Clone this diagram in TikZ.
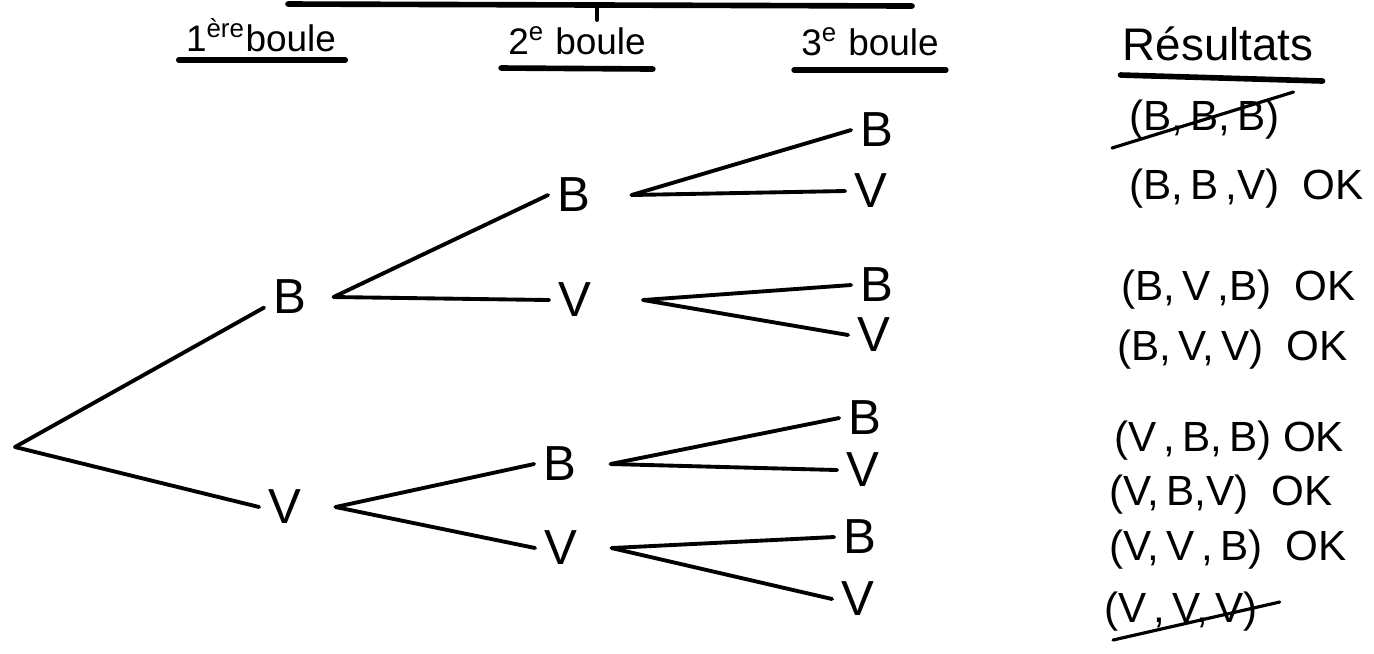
\documentclass[tikz,border=0pt]{standalone}
\usepackage{fontspec}
\setmainfont{Liberation Sans}
\begin{document}
\begin{tikzpicture}[x=0.01cm,y=-0.01cm,
  lbl/.style={inner sep=2.5pt,font=\fontsize{14}{16}\selectfont},
  head/.style={inner sep=1pt,font=\fontsize{10.5}{12}\selectfont},
  res/.style={inner sep=1pt,anchor=west,font=\fontsize{12}{14}\selectfont},
  edge/.style={line width=1.1pt,line cap=round},
  uline/.style={line width=1.6pt,line cap=round},
  strike/.style={line width=0.9pt,line cap=round}]
\useasboundingbox (0,0) rectangle (1374,653);
% cut title underline
\coordinate (t1) at (288,4);
\coordinate (t2) at (912,6);
\coordinate (t3) at (597,5);
\coordinate (t4) at (597,20);
\draw[uline] (t1) -- (t2);
\draw[edge] (t3) -- (t4);
% headers
\node[head] (h1) at (261,35) {1\textsuperscript{ère}boule};
\node[head] (h2) at (577,41) {2\textsuperscript{e} boule};
\node[head] (h3) at (870,42) {3\textsuperscript{e} boule};
\node[head,font=\fontsize{13}{15}\selectfont] (h4) at (1218,44) {Résultats};
\draw[uline] ([shift={(-3,25)}]h1.west) -- ([shift={(5,25)}]h1.east);
\draw[uline] ([shift={(-3,27)}]h2.west) -- ([shift={(3,28)}]h2.east);
\draw[uline] ([shift={(-3,28)}]h3.west) -- ([shift={(3,28)}]h3.east);
\draw[uline] ([shift={(2,31)}]h4.west) -- ([shift={(5,37)}]h4.east);
% tree
\coordinate (r) at (15,447);
\node[lbl] (b1) at (290,297) {B};
\node[lbl] (v1) at (285,507) {V};
\node[lbl] (bb) at (574,195) {B};
\node[lbl] (bv) at (575,300) {V};
\node[lbl] (vb) at (560,464) {B};
\node[lbl] (vv) at (561,548) {V};
\node[lbl] (bbb) at (877,130) {B};
\node[lbl] (bbv) at (871,191) {V};
\node[lbl] (bvb) at (877,285) {B};
\node[lbl] (bvv) at (874,335) {V};
\node[lbl] (vbb) at (865,418) {B};
\node[lbl] (vbv) at (863,470) {V};
\node[lbl] (vvb) at (860,537) {B};
\node[lbl] (vvv) at (858,599) {V};
\draw[edge] (r) -- ([yshift=-3pt]b1.west);
\draw[edge] (r) -- (v1.west);
\foreach \p/\a/\b/\s in {b1/bb/bv/5, v1/vb/vv/7, bb/bbb/bbv/9, bv/bvb/bvv/12, vb/vbb/vbv/7, vv/vvb/vvv/7}{
  \draw[edge] ([xshift=\s pt]\p.east) -- (\a.west);
  \draw[edge] ([xshift=\s pt]\p.east) -- (\b.west);
}
% results
\node[res] (r1) at (1125,120) {(B,\,B,\,B)};
\node[res] (r2) at (1125,189) {(B,\,B\,,V)\ \ OK};
\node[res] (r3) at (1117,290) {(B,\,V\,,B)\ \ OK};
\node[res] (r4) at (1113,350) {(B,\,V,\,V)\ \ OK};
\node[res] (r5) at (1110,441) {(V\,,\,B,\,B)\ OK};
\node[res] (r6) at (1105,495) {(V,\,B,V)\ \ OK};
\node[res] (r7) at (1105,550) {(V,\,V\,,\,B)\ \ OK};
\node[res] (r8) at (1100,612) {(V\,,\,V,\,V)};
\draw[strike] ([shift={(-13,28)}]r1.west) -- ([shift={(10,-28)}]r1.east);
\draw[strike] ([shift={(13,28)}]r8.west) -- ([shift={(18,-10)}]r8.east);
\end{tikzpicture}
\end{document}
